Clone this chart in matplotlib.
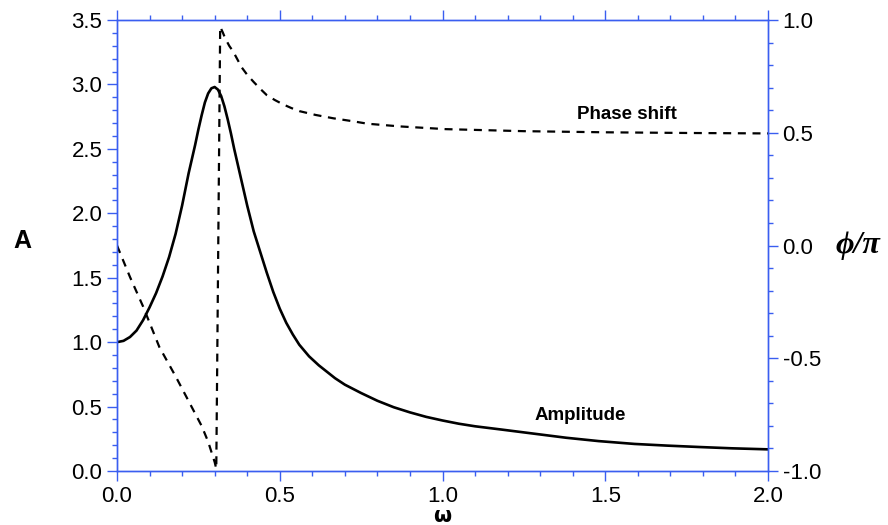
import matplotlib
matplotlib.use("Agg")
import matplotlib.pyplot as plt
from matplotlib.ticker import MultipleLocator

# Amplitude curve (left axis)
amp_omega = [0.00, 0.02, 0.04, 0.06, 0.08, 0.10, 0.12, 0.14, 0.16, 0.18, 0.20,
             0.22, 0.23, 0.24, 0.25, 0.26, 0.27, 0.28, 0.29, 0.30, 0.31, 0.32,
             0.33, 0.34, 0.35, 0.36, 0.37, 0.38, 0.39, 0.40, 0.42, 0.44, 0.46,
             0.48, 0.50, 0.52, 0.54, 0.56, 0.59, 0.62, 0.64, 0.67, 0.70, 0.75,
             0.80, 0.85, 0.90, 0.95, 1.00, 1.05, 1.10, 1.18, 1.28, 1.38, 1.48,
             1.59, 1.69, 1.79, 1.89, 2.00]
amp_values = [1.00, 1.01, 1.04, 1.09, 1.17, 1.27, 1.38, 1.51, 1.66, 1.84, 2.06,
              2.31, 2.42, 2.53, 2.65, 2.76, 2.86, 2.93, 2.97, 2.98, 2.96, 2.91,
              2.83, 2.73, 2.62, 2.50, 2.39, 2.28, 2.17, 2.06, 1.86, 1.70, 1.54,
              1.39, 1.26, 1.15, 1.06, 0.98, 0.89, 0.82, 0.78, 0.72, 0.67, 0.605,
              0.545, 0.495, 0.455, 0.42, 0.392, 0.367, 0.347, 0.322, 0.29, 0.258,
              0.232, 0.21, 0.197, 0.186, 0.176, 0.168]

# Phase shift curve (right axis, phi/pi)
phase_omega = [0.00, 0.04, 0.08, 0.13, 0.18, 0.22, 0.26, 0.28, 0.30, 0.305,
               0.317, 0.325, 0.332, 0.345, 0.357, 0.37, 0.383, 0.40, 0.42, 0.44,
               0.46, 0.485, 0.51, 0.535, 0.56, 0.61, 0.665, 0.72, 0.77, 0.87,
               1.01, 1.25, 1.50, 1.75, 2.00]
phase_values = [0.00, -0.14, -0.27, -0.45, -0.58, -0.69, -0.80, -0.87, -0.96, -0.99,
                0.97, 0.945, 0.92, 0.885, 0.86, 0.825, 0.79, 0.757, 0.725, 0.695,
                0.667, 0.645, 0.626, 0.61, 0.596, 0.579, 0.564, 0.552, 0.540, 0.528,
                0.516, 0.507, 0.502, 0.499, 0.497]

x_ticks = [0.0, 0.5, 1.0, 1.5, 2.0]
left_ticks = [0.0, 0.5, 1.0, 1.5, 2.0, 2.5, 3.0, 3.5]
right_ticks = [-1.0, -0.5, 0.0, 0.5, 1.0]
right_labels = ["-1.0", "-0.5", "0.0", "0.5", "1.0"]

axis_blue = "#3a5ef0"
plt.rcParams['font.family'] = ['Liberation Sans', 'DejaVu Sans']

fig = plt.figure(figsize=(8.88, 5.25), dpi=100)
ax = fig.add_axes([117/888, 1-471/525, (768-117)/888, (471-20)/525])
ax2 = ax.twinx()

ax.plot(amp_omega, amp_values, color="black", lw=1.9, solid_joinstyle="round")
ax2.plot(phase_omega, phase_values, color="black", lw=1.6, ls=(0, (3.6, 3.0)))

ax.set_xlim(0, 2.0)
ax.set_ylim(0, 3.5)
ax2.set_ylim(-1.0, 1.0)

ax.set_xticks(x_ticks)
ax.set_xticklabels([f"{v:.1f}" for v in x_ticks])
ax.set_yticks(left_ticks)
ax.set_yticklabels([f"{v:.1f}" for v in left_ticks])
ax.xaxis.set_minor_locator(MultipleLocator(0.1))
ax.yaxis.set_minor_locator(MultipleLocator(0.1))
ax2.set_yticks(right_ticks)
ax2.set_yticklabels(right_labels)
ax2.yaxis.set_minor_locator(MultipleLocator(0.1))

for a in (ax, ax2):
    for s in a.spines.values():
        s.set_color(axis_blue)
        s.set_linewidth(1.0)

ax.tick_params(axis='both', which='major', direction='out', length=7.5, width=1.0,
               color=axis_blue, labelsize=16, labelcolor='black', pad=3)
ax.tick_params(axis='both', which='minor', direction='out', length=3.8, width=1.0,
               color=axis_blue)
ax.tick_params(axis='x', which='both', top=True, labeltop=False)
ax.tick_params(axis='y', which='both', right=False)
ax2.tick_params(axis='y', which='major', direction='out', length=7.5, width=1.0,
                color=axis_blue, labelsize=16, labelcolor='black', pad=3)
ax2.tick_params(axis='y', which='minor', direction='out', length=3.8, width=1.0,
                color=axis_blue)

ax.text(1.566, 2.763, "Phase shift", fontsize=13.5, fontweight='bold',
        ha='center', va='center')
ax.text(1.422, 0.431, "Amplitude", fontsize=13.5, fontweight='bold',
        ha='center', va='center')

fig.text(22/888, 1-241/525, "A", fontsize=18, fontweight='bold',
         ha='center', va='center')
fig.text(858/888, 1-245/525, "ϕ/π", fontsize=23, ha='center', va='center',
         fontweight='bold', fontstyle='italic',
         family=['Liberation Serif', 'DejaVu Serif'])
fig.text(442/888, 1-522/525, "ω", fontsize=15, fontweight='bold',
         ha='center', va='baseline', family=['DejaVu Sans'])

fig.savefig("out.png", dpi=100)
